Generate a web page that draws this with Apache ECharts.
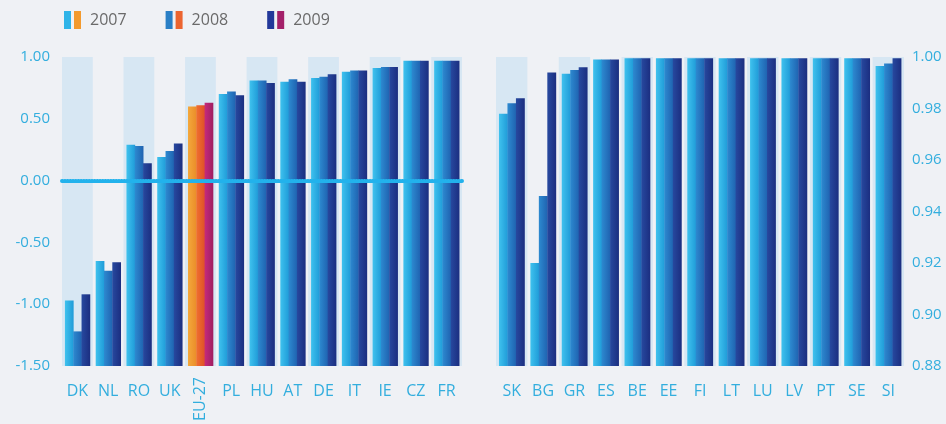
<!DOCTYPE html>
<html>
<head>
<meta charset="utf-8">
<script src="https://cdn.jsdelivr.net/npm/echarts@6/dist/echarts.min.js"></script>
<style>
html,body{margin:0;padding:0;background:#eff1f5;}
#chart{width:946px;height:424px;}
</style>
</head>
<body>
<div id="chart"></div>
<script>
// ---- data ----
const years = ['2007', '2008', '2009'];
const leftCategories = ['DK','NL','RO','UK','EU-27','PL','HU','AT','DE','IT','IE','CZ','FR'];
const left2007 = [-0.97,-0.65,0.29,0.19,0.60,0.70,0.81,0.80,0.83,0.88,0.91,0.97,0.97];
const left2008 = [-1.22,-0.73,0.28,0.24,0.61,0.72,0.81,0.82,0.84,0.89,0.92,0.97,0.97];
const left2009 = [-0.92,-0.66,0.14,0.30,0.63,0.69,0.79,0.80,0.86,0.89,0.92,0.97,0.97];
const rightCategories = ['SK','BG','GR','ES','BE','EE','FI','LT','LU','LV','PT','SE','SI'];
const right2007 = [0.978,0.920,0.9935,0.999,0.9995,0.9995,0.9995,0.9995,0.9995,0.9995,0.9995,0.9995,0.9965];
const right2008 = [0.982,0.946,0.995,0.999,0.9995,0.9995,0.9995,0.9995,0.9995,0.9995,0.9995,0.9995,0.9975];
const right2009 = [0.984,0.994,0.996,0.999,0.9995,0.9995,0.9995,0.9995,0.9995,0.9995,0.9995,0.9995,0.9995];
const leftTicks = {min:-1.5, max:1.0, interval:0.5};
const rightTicks = {min:0.88, max:1.0, interval:0.02};
const highlightCategory = 'EU-27';

// ---- styles ----
const blueGrad = [['#3fc2ee','#1f9bd8'],['#2d8ad0','#1f62b0'],['#27499f','#1b2e80']];
const euGrad = [['#f4a83c','#ea8c28'],['#f0702f','#de4f27'],['#c52a7c','#9f1e60']];
const labelColor = '#33aede';
const font = 'Open Sans';

function grad(c){
  return new echarts.graphic.LinearGradient(0,0,1,0,[{offset:0,color:c[0]},{offset:1,color:c[1]}]);
}

function makeRender(idx, base, cats){
  return function(params, api){
    const ci = api.value(0), v = api.value(1);
    const band = api.size([1,0])[0];
    const bw = band*0.27;
    const top = api.coord([ci, v]);
    const bot = api.coord([ci, base]);
    const x = top[0] - 1.5*bw + idx*bw;
    const isEU = cats[ci] === highlightCategory;
    return {
      type:'rect',
      shape:{x:x, y:top[1], width:bw+0.4, height:bot[1]-top[1]},
      style:{fill: grad(isEU ? euGrad[idx] : blueGrad[idx])}
    };
  };
}

const leftData = [left2007, left2008, left2009];
const rightData = [right2007, right2008, right2009];

const series = [];
years.forEach((y, i) => {
  series.push({
    name:y, type:'custom', xAxisIndex:0, yAxisIndex:0,
    renderItem: makeRender(i, leftTicks.min, leftCategories),
    data: leftData[i].map((v,k)=>[k,v]),
    encode:{x:0,y:1},
    itemStyle:{color: blueGrad[i][0]},
    markLine: i === 0 ? {
      silent:true, symbol:'none', label:{show:false},
      lineStyle:{color:'#22b2ec', width:4, type:[0.5,2.2], cap:'round', opacity:1},
      emphasis:{disabled:true},
      data:[{yAxis:0}]
    } : undefined,
    z: 3
  });
  series.push({
    name:y, type:'custom', xAxisIndex:2, yAxisIndex:1,
    renderItem: makeRender(i, rightTicks.min, rightCategories),
    data: rightData[i].map((v,k)=>[k,v]),
    encode:{x:0,y:1},
    itemStyle:{color: blueGrad[i][0]},
    z: 3
  });
});

const catLabel = {color:labelColor, fontSize:16, fontFamily:font, margin:17, interval:0};

const option = {
  backgroundColor:'#eff1f5',
  animation:false,
  legend:{
    left:54, top:6, icon:'rect', itemWidth:0, itemHeight:0, itemGap:34,
    data: years,
    selectedMode:false,
    formatter: function(name){
      const i = years.indexOf(name);
      return '{a' + i + '| }{g| }{b' + i + '| }{t|' + name + '}';
    },
    textStyle:{
      rich:{
        a0:{width:7,height:18,backgroundColor:'#2fb4e8'},
        b0:{width:7,height:18,backgroundColor:'#f39a2e'},
        a1:{width:7,height:18,backgroundColor:'#2a7fc6'},
        b1:{width:7,height:18,backgroundColor:'#ec6530'},
        a2:{width:7,height:18,backgroundColor:'#22389a'},
        b2:{width:7,height:18,backgroundColor:'#a3206a'},
        g:{width:3},
        t:{fontSize:16,color:'#6a6a6a',fontFamily:font,padding:[0,0,0,9]}
      }
    }
  },
  grid:[
    {left:62, width:400, top:57, bottom:58},
    {left:496, width:408, top:57, bottom:58}
  ],
  xAxis:[
    {type:'category', gridIndex:0, position:'bottom', data:leftCategories,
     axisLine:{show:false}, axisTick:{show:false},
     axisLabel:Object.assign({}, catLabel, {formatter:v => v === highlightCategory ? '' : v}),
     splitArea:{show:true, interval:0, areaStyle:{color:['#d7e7f3','rgba(0,0,0,0)']}}},
    {type:'category', gridIndex:0, position:'bottom', data:leftCategories,
     axisLine:{show:false}, axisTick:{show:false},
     axisLabel:Object.assign({}, catLabel, {rotate:90, margin:11, formatter:v => v === highlightCategory ? v : ''})},
    {type:'category', gridIndex:1, position:'bottom', data:rightCategories,
     axisLine:{show:false}, axisTick:{show:false},
     axisLabel:catLabel,
     splitArea:{show:true, interval:0, areaStyle:{color:['#d7e7f3','rgba(0,0,0,0)']}}}
  ],
  yAxis:[
    {type:'value', gridIndex:0, min:leftTicks.min, max:leftTicks.max, interval:leftTicks.interval,
     axisLine:{show:false}, axisTick:{show:false}, splitLine:{show:false},
     axisLabel:{color:labelColor, fontSize:15, fontFamily:font, margin:12, formatter:v=>v.toFixed(2)}},
    {type:'value', gridIndex:1, position:'right', min:rightTicks.min, max:rightTicks.max, interval:rightTicks.interval,
     axisLine:{show:false}, axisTick:{show:false}, splitLine:{show:false},
     axisLabel:{color:labelColor, fontSize:15, fontFamily:font, margin:8, formatter:v=>v.toFixed(2)}}
  ],
  series: series
};

const chart = echarts.init(document.getElementById('chart'), null, {renderer:'canvas'});
chart.setOption(option);
</script>
</body>
</html>
